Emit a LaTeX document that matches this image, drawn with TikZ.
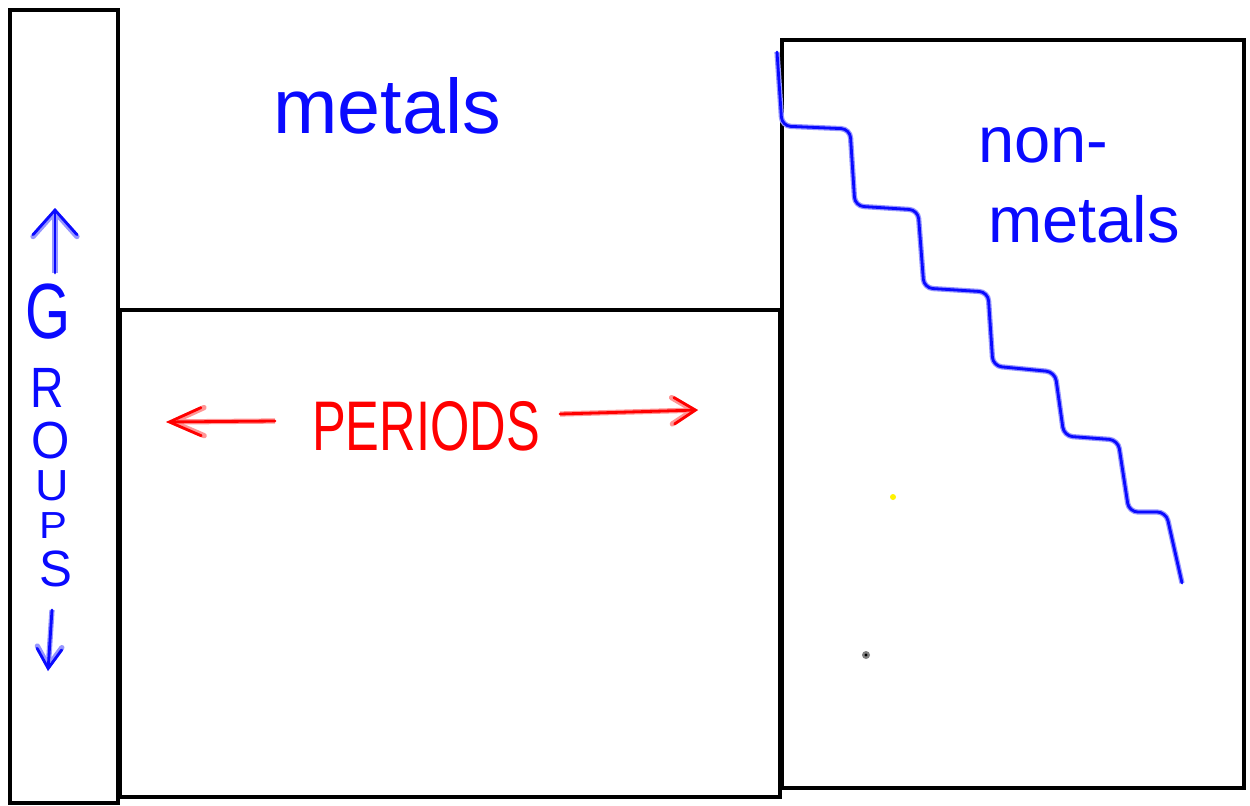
\documentclass[tikz,border=0pt]{standalone}
\usepackage{fontspec}
\setmainfont{Liberation Sans}
\usepackage{graphicx}
\usetikzlibrary{arrows.meta}
\definecolor{penblue}{RGB}{10,10,255}
\definecolor{haloblue}{RGB}{150,150,255}
\definecolor{penred}{RGB}{255,0,0}
\definecolor{halored}{RGB}{255,150,150}
\begin{document}
\begin{tikzpicture}[x=0.02cm,y=-0.02cm,
  frame/.style={draw=black,line width=2.6pt},
  bluepen/.style={draw=penblue,line width=1.6pt,line cap=round,line join=round,
    preaction={draw=haloblue,line width=3pt}},
  redpen/.style={draw=penred,line width=1.6pt,line cap=round,line join=round,
    preaction={draw=halored,line width=3pt}},
  bluetext/.style={text=penblue,inner sep=0pt},
  redtext/.style={text=penred,inner sep=0pt},
  letter/.style={bluetext,font=\fontsize{33}{36}\selectfont},
]
\useasboundingbox[fill=white] (0,0) rectangle (1250,805);

% frames
\draw[frame] (10,10) rectangle (118,803);
\draw[frame] (120,310) rectangle (780,797);
\draw[frame] (782,40) rectangle (1244,788);

% labels
\node[bluetext,anchor=base,font=\fontsize{44}{50}\selectfont] (metals) at (387,133) {metals};
\node[bluetext,anchor=base west,font=\fontsize{37}{42}\selectfont] (non) at (978,162) {non-};
\node[bluetext,anchor=base west,font=\fontsize{37}{42}\selectfont] (nonmetals) at (988,242) {metals};
\node[redtext,anchor=base,font=\fontsize{40}{44}\selectfont] (periods) at (426,450) {\scalebox{0.72}[1]{PERIODS}};

% GROUPS stacked
\node[letter] (g) at (48,312) {\scalebox{1.0}[1.35]{G}};
\node[letter] (r) at (47,388) {\scalebox{0.8}[0.98]{R}};
\node[letter] (o) at (51,441) {\scalebox{0.85}[0.9]{O}};
\node[letter] (u) at (52,486) {\scalebox{0.8}[0.75]{U}};
\node[letter] (p) at (53,526) {\scalebox{0.72}[0.65]{P}};
\node[letter] (s) at (56,569) {\scalebox{0.85}[0.88]{S}};

% arrows
\coordinate (upA) at (55,273);
\coordinate (upB) at (55,208);
\coordinate (dnA) at (52,610);
\coordinate (dnB) at (48,671);
\coordinate (lfA) at (275,421);
\coordinate (lfB) at (166,422);
\coordinate (rtA) at (560,414);
\coordinate (rtB) at (698,410);
\draw[bluepen,-{Straight Barb[length=14pt,width=25pt,line cap=round]}] (upA) -- (upB);
\draw[bluepen,-{Straight Barb[length=11pt,width=14pt,line cap=round]}] (dnA) -- (dnB);
\draw[redpen,-{Straight Barb[length=18pt,width=16pt,line cap=round]}] (lfA) -- (lfB);
\draw[redpen,-{Straight Barb[length=12pt,width=15pt,line cap=round]}] (rtA) -- (rtB);

% staircase boundary
\coordinate (st0) at (777,52);
\coordinate (st1) at (1182,583);
\draw[bluepen,rounded corners=5pt] (st0) -- (782,126) -- (850,129) -- (855,206) -- (918,210)
  -- (924,288) -- (988,292) -- (993,366) -- (1055,372) -- (1064,436) -- (1118,440)
  -- (1129,512) -- (1166,512) -- (st1);

% stray dots
\fill[yellow] (893,497) circle (3);
\fill[gray] (866,655) circle (4);
\fill[black] (866,655) circle (1.6);
\end{tikzpicture}
\end{document}
